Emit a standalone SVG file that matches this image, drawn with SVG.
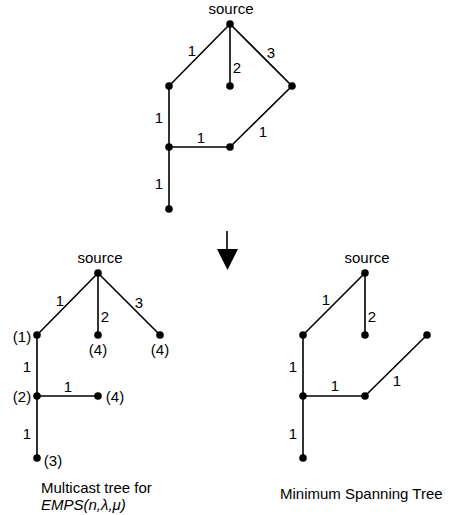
<svg xmlns="http://www.w3.org/2000/svg" width="454" height="515" viewBox="0 0 454 515">
  <style>
    .edge { stroke: #000; stroke-width: 1.6; fill: none; }
    .dot { fill: #000; }
    text { font-family: "Liberation Sans", Arial, sans-serif; font-size: 15px; fill: #000; }
    .c { text-anchor: middle; }
    .w { dominant-baseline: central; }
  </style>
  <defs>
    <circle id="pt" r="3.8" class="dot"/>
  </defs>

  <!-- upper graph: full weighted network -->
  <g id="connectors-top">
    <path class="edge" d="M230,24 L169,86 L169,209 M230,24 L230,86 M230,24 L292,86 L230,147 L169,147"/>
  </g>
  <g id="top-source"><use href="#pt" x="230" y="24"/><text class="c" x="231" y="14">source</text></g>
  <g id="top-a"><use href="#pt" x="169" y="86"/></g>
  <g id="top-b"><use href="#pt" x="230" y="86"/></g>
  <g id="top-c"><use href="#pt" x="292" y="86"/></g>
  <g id="top-d"><use href="#pt" x="169" y="147"/></g>
  <g id="top-e"><use href="#pt" x="230" y="147"/></g>
  <g id="top-f"><use href="#pt" x="169" y="209"/></g>
  <g id="top-weights">
    <text class="c w" x="192" y="50">1</text>
    <text class="c w" x="237" y="67">2</text>
    <text class="c w" x="271" y="52">3</text>
    <text class="c w" x="159" y="117">1</text>
    <text class="c w" x="201" y="137">1</text>
    <text class="c w" x="263" y="131">1</text>
    <text class="c w" x="159" y="183">1</text>
  </g>

  <!-- transformation arrow -->
  <g id="arrow">
    <line x1="227" y1="231" x2="227" y2="251" stroke="#000" stroke-width="1.6"/>
    <polygon points="217,249 238,249 227.5,270" fill="#000"/>
  </g>

  <!-- lower left: multicast tree -->
  <g id="connectors-left">
    <path class="edge" d="M98,273 L37,335 L37,458 M98,273 L98,335 M98,273 L160,335 M37,396 L98,396"/>
  </g>
  <g id="mc-source"><use href="#pt" x="98" y="273"/><text class="c" x="100" y="263">source</text></g>
  <g id="mc-a"><use href="#pt" x="37" y="335"/><text class="c w" x="22" y="336">(1)</text></g>
  <g id="mc-b"><use href="#pt" x="98" y="335"/><text class="c w" x="98" y="349">(4)</text></g>
  <g id="mc-c"><use href="#pt" x="160" y="335"/><text class="c w" x="160" y="349">(4)</text></g>
  <g id="mc-d"><use href="#pt" x="37" y="396"/><text class="c w" x="22" y="396">(2)</text></g>
  <g id="mc-e"><use href="#pt" x="98" y="396"/><text class="c w" x="115" y="396">(4)</text></g>
  <g id="mc-f"><use href="#pt" x="37" y="458"/><text class="c w" x="53" y="460">(3)</text></g>
  <g id="mc-weights">
    <text class="c w" x="60" y="300">1</text>
    <text class="c w" x="105" y="316">2</text>
    <text class="c w" x="139" y="302">3</text>
    <text class="c w" x="27" y="366">1</text>
    <text class="c w" x="68" y="386">1</text>
    <text class="c w" x="27" y="433">1</text>
  </g>
  <g id="mc-caption">
    <text x="41" y="493">Multicast tree for</text>
    <text x="41" y="510" font-style="italic">EMPS(n,λ,μ)</text>
  </g>

  <!-- lower right: minimum spanning tree -->
  <g id="connectors-right">
    <path class="edge" d="M365,273 L303,335 L303,458 M365,273 L365,335 M303,396 L365,396 L427,335"/>
  </g>
  <g id="mst-source"><use href="#pt" x="365" y="273"/><text class="c" x="367" y="263">source</text></g>
  <g id="mst-a"><use href="#pt" x="303" y="335"/></g>
  <g id="mst-b"><use href="#pt" x="365" y="335"/></g>
  <g id="mst-c"><use href="#pt" x="427" y="335"/></g>
  <g id="mst-d"><use href="#pt" x="303" y="396"/></g>
  <g id="mst-e"><use href="#pt" x="365" y="396"/></g>
  <g id="mst-f"><use href="#pt" x="303" y="458"/></g>
  <g id="mst-weights">
    <text class="c w" x="326" y="299">1</text>
    <text class="c w" x="372" y="316">2</text>
    <text class="c w" x="293" y="366">1</text>
    <text class="c w" x="335" y="385">1</text>
    <text class="c w" x="397" y="380">1</text>
    <text class="c w" x="293" y="433">1</text>
  </g>
  <g id="mst-caption">
    <text x="280" y="499">Minimum Spanning Tree</text>
  </g>
</svg>
